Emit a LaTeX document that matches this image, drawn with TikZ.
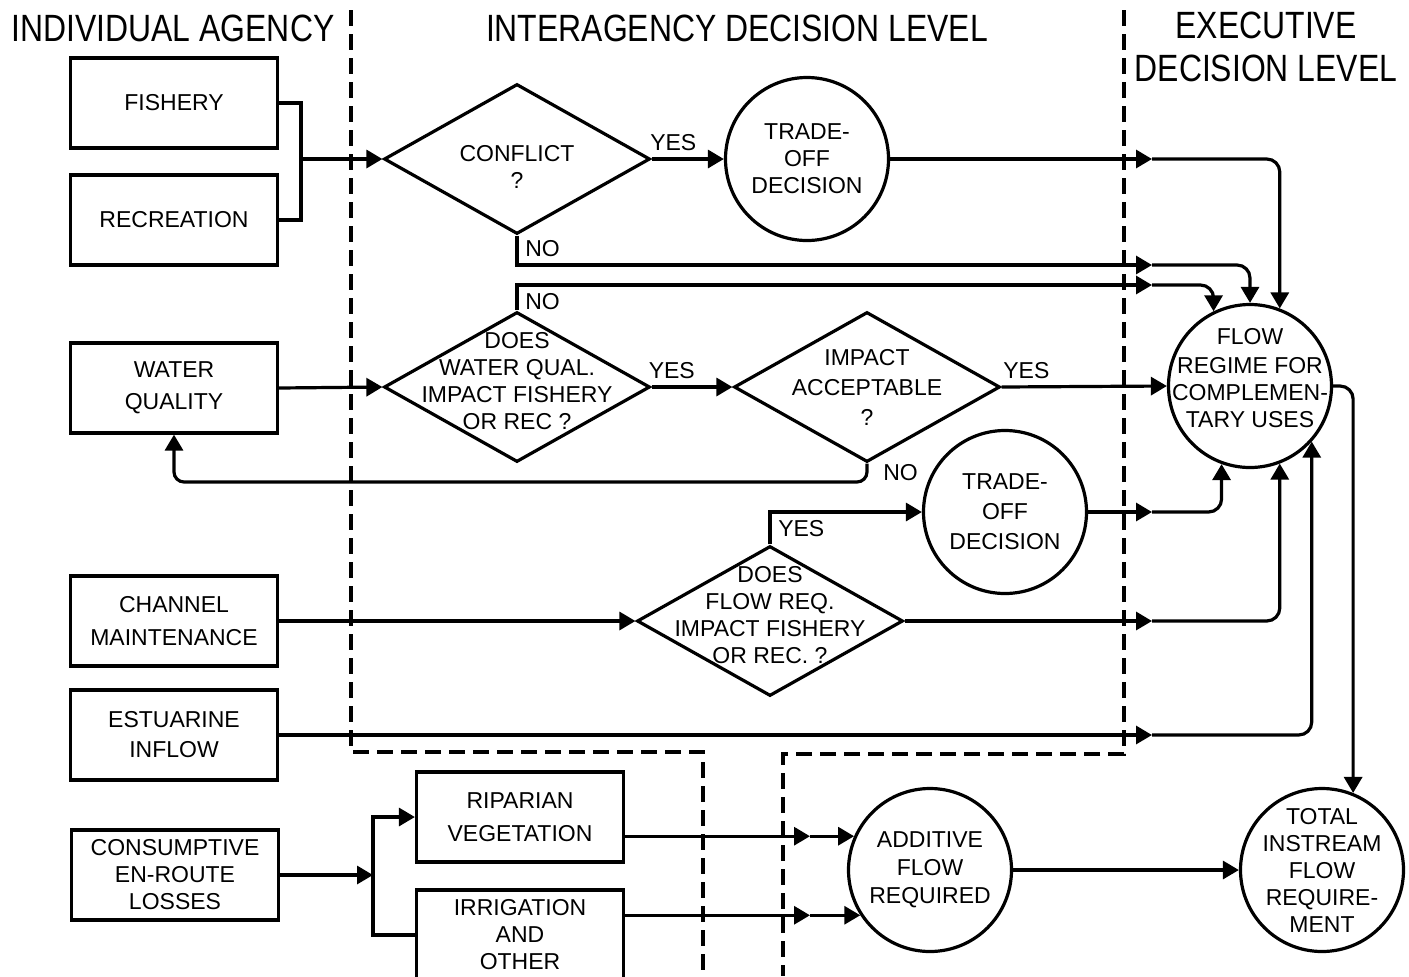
\documentclass[tikz,border=0pt]{standalone}
\usepackage{fontspec}
\setmainfont{Liberation Sans}
\newfontfamily\headfont[FakeStretch=0.84]{Liberation Sans}
\usetikzlibrary{arrows.meta,shapes.geometric}

\begin{document}
\begin{tikzpicture}[x=0.5pt,y=-0.5pt,line width=1.6pt,
    >={Triangle[length=8pt,width=9pt]},
    font=\fontsize{11.5}{13.5}\selectfont,
    box/.style={draw,minimum width=103.5pt,minimum height=45pt,align=center,inner sep=0pt},
    dia/.style={draw,diamond,minimum width=133pt,minimum height=75pt,inner sep=0pt},
    circ/.style={draw,circle,minimum size=81.5pt,inner sep=0pt},
    head/.style={font=\headfont\fontsize{19}{21.5}\selectfont,align=center},
    bound/.style={line width=1.6pt,dash pattern=on 8pt off 4pt},
    every label/.style={align=center}]
    \useasboundingbox (0,0) rectangle (1409,976);

    % column headings
    \node[head] (hagency) at (173,28) {INDIVIDUAL AGENCY};
    \node[head] (hinter) at (737,28) {INTERAGENCY DECISION LEVEL};
    \node[head] (hexec) at (1266,47) {EXECUTIVE\\DECISION LEVEL};

    % boundaries between the levels
    \draw[bound] (351,10) -- (351,752) -- (703,752) -- (703,976);
    \draw[bound] (1124,10) -- (1124,754) -- (783,754) -- (783,976);

    % individual agency
    \node[box] (fish) at (174,103) {FISHERY};
    \node[box] (recr) at (174,220) {RECREATION};
    \node[box] (wq) at (174,388) {WATER\\[2.5pt]QUALITY};
    \node[box] (chan) at (174,621) {CHANNEL\\[3pt]MAINTENANCE};
    \node[box] (estu) at (174,735) {ESTUARINE\\[1.5pt]INFLOW};
    \node[box] (cons) at (175,875) {CONSUMPTIVE\\EN-ROUTE\\LOSSES};
    \node[box] (ripa) at (520,817) {RIPARIAN\\[3pt]VEGETATION};
    \node[box] (irri) at (520,935) {IRRIGATION\\AND\\OTHER};

    % interagency decisions
    \node[dia,label={[yshift=-4pt]center:CONFLICT\\?}] (conf) at (517,159) {};
    \node[dia,label={[yshift=3pt]center:DOES\\WATER QUAL.\\IMPACT FISHERY\\OR REC ?}] (wqq) at (517,387) {};
    \node[dia,label={center:IMPACT\\[1.5pt]ACCEPTABLE\\[1.5pt]?}] (acc) at (867,387) {};
    \node[dia,label={[yshift=3pt]center:DOES\\FLOW REQ.\\IMPACT FISHERY\\OR REC. ?}] (frq) at (770,621) {};
    \node[circ,label={center:TRADE-\\OFF\\DECISION}] (tr1) at (807,159) {};
    \node[circ,label={center:TRADE-\\[1.5pt]OFF\\[1.5pt]DECISION}] (tr2) at (1005,512) {};

    % executive decisions
    \node[circ,label={[yshift=4pt]center:FLOW\\[1pt]REGIME FOR\\COMPLEMEN-\\TARY USES}] (flow) at (1250,386) {};
    \node[circ,label={center:ADDITIVE\\[0.5pt]FLOW\\[0.5pt]REQUIRED}] (add) at (930,870) {};
    \node[circ,label={center:TOTAL\\INSTREAM\\FLOW\\REQUIRE-\\MENT}] (tot) at (1322,870) {};

    \coordinate (ex) at (1152,0);
    \coordinate (ax) at (810,0);
    \coordinate (fr) at (301,159);
    \coordinate (no1) at (1152,265);
    \coordinate (no2) at (1152,285);
    \coordinate (wb) at (174,482);
    \coordinate (cb) at (373,875);

    % fishery and recreation
    \draw (fish.east) -| (fr) |- (recr.east);
    \draw[->] (fr) -- (conf.west);
    \draw[->] (conf.east) -- node[above,pos=0.3] {YES} (tr1.west);
    \draw[->] (tr1.east) -- (tr1.east -| ex);
    \draw[->,rounded corners=6.5pt] (tr1.east -| ex) -| (flow.69);
    \draw[->] (conf.south) |- node[pos=0.5,anchor=south west] {NO} (no1);
    \draw[->,rounded corners=6.5pt] (no1) -| (flow.north);

    % water quality
    \draw[->] (wq.east) -- (wqq.west);
    \draw[->] (wqq.north) |- node[pos=0.5,anchor=north west] {NO} (no2);
    \draw[->,rounded corners=6.5pt] (no2) -| (flow.116);
    \draw[->] (wqq.east) -- node[above,pos=0.25] {YES} (acc.west);
    \draw[->] (acc.east) -- node[above,pos=0.15] {YES} (flow.west);
    \draw[->,rounded corners=5pt] (acc.south) |- node[pos=0.25,right,xshift=4pt] {NO} (wb) -- (wq.south);

    % channel maintenance
    \draw[->] (chan.east) -- (frq.west);
    \draw[->] (frq.north) |- node[pos=0.25,right] {YES} (tr2.west);
    \draw[->] (tr2.east) -- (tr2.east -| ex);
    \draw[->,rounded corners=6.5pt] (tr2.east -| ex) -| (flow.250);
    \draw[->] (frq.east) -- (frq.east -| ex);
    \draw[->,rounded corners=6.5pt] (frq.east -| ex) -| (flow.291);

    % estuarine inflow
    \draw[->] (estu.east) -- (estu.east -| ex);
    \draw[->,rounded corners=6.5pt] (estu.east -| ex) -| (flow.318);
    \draw[->,rounded corners=6.5pt] (flow.east) -| (tot.68);

    % consumptive losses
    \draw[->] (cons.east) -- (cb);
    \draw[->] (irri.west) -| (cb) |- (ripa.west);
    \draw[->] (ripa.east |- add.156) -- (add.156 -| ax);
    \draw[->] (add.156 -| ax) -- (add.156);
    \draw[->] (irri.east |- add.213) -- (add.213 -| ax);
    \draw[->] (add.213 -| ax) -- (add.213);
    \draw[->] (add.east) -- (tot.west);
\end{tikzpicture}
\end{document}
